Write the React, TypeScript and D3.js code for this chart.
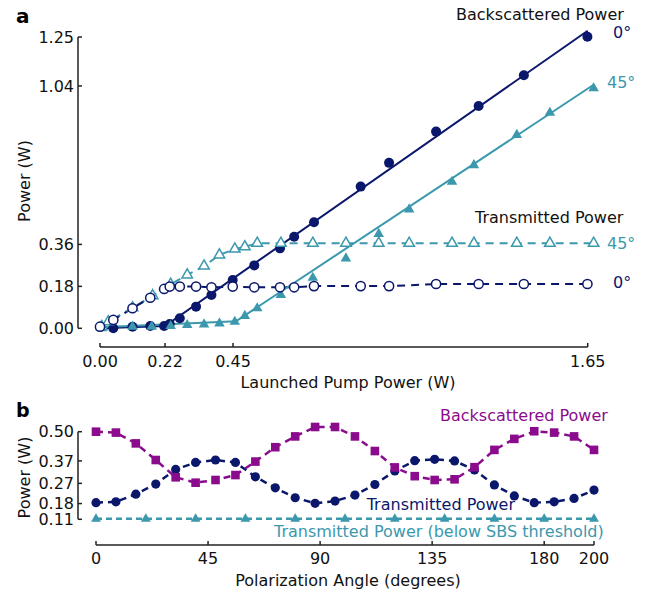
import React from "react";
import * as d3 from "d3";

// ---------- Panel a data ----------
const xTicksA = [0, 0.22, 0.45, 1.65];
const xTickLabelsA = ["0.00", "0.22", "0.45", "1.65"];
const yTicksA = [0, 0.18, 0.36, 1.04, 1.25];
const yTickLabelsA = ["0.00", "0.18", "0.36", "1.04", "1.25"];

const pump0Back = [0.045, 0.11, 0.17, 0.217, 0.236, 0.27, 0.325, 0.377, 0.449, 0.522, 0.609, 0.657, 0.724, 0.882, 0.978, 1.137, 1.281, 1.434, 1.649];
const back0 = [0.0, 0.007, 0.01, 0.01, 0.018, 0.043, 0.093, 0.143, 0.207, 0.27, 0.343, 0.393, 0.455, 0.608, 0.71, 0.844, 0.954, 1.086, 1.251];
const pump0Trans = [0, 0.045, 0.11, 0.17, 0.217, 0.236, 0.27, 0.325, 0.377, 0.449, 0.522, 0.609, 0.657, 0.724, 0.882, 0.978, 1.137, 1.281, 1.434, 1.649];
const trans0 = [0.007, 0.036, 0.086, 0.131, 0.169, 0.179, 0.179, 0.179, 0.176, 0.179, 0.176, 0.176, 0.176, 0.181, 0.181, 0.181, 0.19, 0.19, 0.19, 0.19];

const pump45 = [0.006, 0.11, 0.175, 0.239, 0.295, 0.352, 0.404, 0.456, 0.49, 0.532, 0.612, 0.72, 0.832, 0.943, 1.046, 1.191, 1.265, 1.41, 1.522, 1.67];
const back45 = [0.0, 0.007, 0.007, 0.01, 0.014, 0.017, 0.021, 0.028, 0.053, 0.086, 0.143, 0.217, 0.3, 0.405, 0.51, 0.629, 0.7, 0.83, 0.925, 1.03];
const pump45Trans = [0.006, 0.028, 0.11, 0.178, 0.239, 0.295, 0.352, 0.404, 0.456, 0.49, 0.532, 0.612, 0.72, 0.832, 0.943, 1.046, 1.191, 1.265, 1.41, 1.522, 1.67];
const trans45 = [0.007, 0.028, 0.088, 0.14, 0.189, 0.229, 0.267, 0.315, 0.34, 0.35, 0.365, 0.365, 0.365, 0.365, 0.365, 0.365, 0.365, 0.365, 0.365, 0.365, 0.365];

const fitBack0X = [0, 0.22, 1.65];
const fitBack0Y = [0, 0.01, 1.277];
const fitBack45X = [0, 0.46, 1.67];
const fitBack45Y = [0.004, 0.03, 1.045];

// ---------- Panel b data ----------
const xTicksB = [0, 45, 90, 135, 180, 200];
const yTicksB = [0.11, 0.18, 0.27, 0.37, 0.5];
const yTickLabelsB = ["0.11", "0.18", "0.27", "0.37", "0.50"];

const angles = [0, 8, 16, 24, 32, 40, 48, 56, 64, 72, 80, 88, 96, 104, 112, 120, 128, 136, 144, 152, 160, 168, 176, 184, 192, 200];
const backB = [0.5, 0.496, 0.448, 0.374, 0.297, 0.273, 0.285, 0.307, 0.367, 0.431, 0.479, 0.521, 0.521, 0.479, 0.414, 0.341, 0.302, 0.285, 0.288, 0.342, 0.419, 0.468, 0.502, 0.496, 0.479, 0.419];
const transB = [0.184, 0.188, 0.222, 0.267, 0.332, 0.363, 0.374, 0.363, 0.299, 0.25, 0.206, 0.181, 0.191, 0.218, 0.265, 0.325, 0.371, 0.377, 0.37, 0.33, 0.263, 0.214, 0.184, 0.188, 0.203, 0.24];
const belowAngles = [0, 20, 40, 60, 80, 100, 120, 140, 160, 180, 200];
const belowB = [0.112, 0.112, 0.112, 0.112, 0.112, 0.112, 0.112, 0.112, 0.112, 0.112, 0.112];

const NAVY = "#0b176b";
const TEAL = "#3b98ad";
const PURPLE = "#8a0c8c";
const AX = "#222";
const FONT = "DejaVu Sans, Verdana, sans-serif";
const FS = 16;

const zip = (xs: number[], ys: number[]) => xs.map((x, i) => [x, ys[i]] as [number, number]);

export default function App() {
  // panel a scales
  const xA = d3.scaleLinear().domain([0, 1.65]).range([100, 587.7]);
  const yA = d3.scaleLinear().domain([0, 1.25]).range([328.3, 37]);
  const xAxisYA = 347;
  const yAxisXA = 78;

  // panel b scales
  const xB = d3.scaleLinear().domain([0, 200]).range([96, 594]);
  const yB = d3.scaleLinear().domain([0.11, 0.5]).range([519.3, 431.7]);
  const xAxisYB = 545;
  const yAxisXB = 78;

  const lineA = d3.line<[number, number]>().x((d) => xA(d[0])).y((d) => yA(d[1]));
  const lineB = d3.line<[number, number]>().x((d) => xB(d[0])).y((d) => yB(d[1]));

  const tri = d3.symbol().type(d3.symbolTriangle).size(48)() as string;
  const triB = d3.symbol().type(d3.symbolTriangle).size(42)() as string;

  const textStyle = { fontFamily: FONT, fontSize: FS } as const;

  return (
    <svg width={649} height={595} style={{ position: "absolute", left: 0, top: 0, background: "#fff" }}>
      <rect x={0} y={0} width={649} height={595} fill="#fff" />
      {/* ===== Panel a ===== */}
      <text x={16} y={23} fontFamily={FONT} fontSize={20} fontWeight="bold" fill="#000">a</text>

      {/* y axis */}
      <line x1={yAxisXA} x2={yAxisXA} y1={yA(1.25)} y2={yA(0)} stroke={AX} strokeWidth={1.5} />
      {yTicksA.map((t, i) => (
        <g key={"ya" + i}>
          <line x1={yAxisXA} x2={yAxisXA + 4} y1={yA(t)} y2={yA(t)} stroke={AX} strokeWidth={1.5} />
          <text x={yAxisXA - 4} y={yA(t) + 5.7} textAnchor="end" {...textStyle} fill="#111">{yTickLabelsA[i]}</text>
        </g>
      ))}
      <text transform={`translate(30,181) rotate(-90)`} textAnchor="middle" {...textStyle} fill="#111">Power (W)</text>

      {/* x axis */}
      <line x1={xA(0)} x2={xA(1.65)} y1={xAxisYA} y2={xAxisYA} stroke={AX} strokeWidth={1.5} />
      {xTicksA.map((t, i) => (
        <g key={"xa" + i}>
          <line x1={xA(t)} x2={xA(t)} y1={xAxisYA} y2={xAxisYA - 4} stroke={AX} strokeWidth={1.5} />
          <text x={xA(t)} y={367} textAnchor="middle" {...textStyle} fill="#111">{xTickLabelsA[i]}</text>
        </g>
      ))}
      <text x={348} y={388} textAnchor="middle" {...textStyle} fill="#111">Launched Pump Power (W)</text>

      {/* dashed transmitted lines */}
      <path d={lineA(zip(pump45Trans, trans45)) as string} fill="none" stroke={TEAL} strokeWidth={2} strokeDasharray="8,6" />
      <path d={lineA(zip(pump0Trans, trans0)) as string} fill="none" stroke={NAVY} strokeWidth={2} strokeDasharray="8,6" />
      {/* solid fit lines */}
      <path d={lineA(zip(fitBack0X, fitBack0Y)) as string} fill="none" stroke={NAVY} strokeWidth={2} />
      <path d={lineA(zip(fitBack45X, fitBack45Y)) as string} fill="none" stroke={TEAL} strokeWidth={2} />

      {/* markers */}
      {zip(pump0Back, back0).map((d, i) => (
        <circle key={"b0" + i} cx={xA(d[0])} cy={yA(d[1])} r={5} fill={NAVY} />
      ))}
      {zip(pump45, back45).map((d, i) => (
        <path key={"b45" + i} d={tri} transform={`translate(${xA(d[0])},${yA(d[1])})`} fill={TEAL} />
      ))}
      {zip(pump45Trans, trans45).map((d, i) => (
        <path key={"t45" + i} d={tri} transform={`translate(${xA(d[0])},${yA(d[1])})`} fill="#fff" stroke={TEAL} strokeWidth={1.5} />
      ))}
      {zip(pump0Trans, trans0).map((d, i) => (
        <circle key={"t0" + i} cx={xA(d[0])} cy={yA(d[1])} r={4.6} fill="#fff" stroke={NAVY} strokeWidth={1.5} />
      ))}

      {/* labels */}
      <text x={456} y={20} {...textStyle} fill="#111">Backscattered Power</text>
      <text x={613} y={38.3} {...textStyle} fill={NAVY}>0°</text>
      <text x={607} y={87.5} {...textStyle} fill={TEAL}>45°</text>
      <text x={475} y={223.3} {...textStyle} fill="#111">Transmitted Power</text>
      <text x={607} y={249} {...textStyle} fill={TEAL}>45°</text>
      <text x={613} y={288} {...textStyle} fill={NAVY}>0°</text>

      {/* ===== Panel b ===== */}
      <text x={16} y={416.7} fontFamily={FONT} fontSize={19} fontWeight="bold" fill="#000">b</text>

      <line x1={yAxisXB} x2={yAxisXB} y1={yB(0.5)} y2={yB(0.11)} stroke={AX} strokeWidth={1.5} />
      {yTicksB.map((t, i) => (
        <g key={"yb" + i}>
          <line x1={yAxisXB} x2={yAxisXB + 4} y1={yB(t)} y2={yB(t)} stroke={AX} strokeWidth={1.5} />
          <text x={yAxisXB - 4} y={yB(t) + 5.7} textAnchor="end" {...textStyle} fill="#111">{yTickLabelsB[i]}</text>
        </g>
      ))}
      <text transform={`translate(29.5,477.5) rotate(-90)`} textAnchor="middle" {...textStyle} fill="#111">Power (W)</text>

      <line x1={xB(0)} x2={xB(200)} y1={xAxisYB} y2={xAxisYB} stroke={AX} strokeWidth={1.5} />
      {xTicksB.map((t, i) => (
        <g key={"xb" + i}>
          <line x1={xB(t)} x2={xB(t)} y1={xAxisYB} y2={xAxisYB - 4} stroke={AX} strokeWidth={1.5} />
          <text x={xB(t)} y={563.5} textAnchor="middle" {...textStyle} fill="#111">{String(t)}</text>
        </g>
      ))}
      <text x={348} y={585.5} textAnchor="middle" {...textStyle} fill="#111">Polarization Angle (degrees)</text>

      {/* lines */}
      <path d={lineB(zip(belowAngles, belowB)) as string} fill="none" stroke={TEAL} strokeWidth={2.5} strokeDasharray="6,4" />
      <path d={lineB(zip(angles, transB)) as string} fill="none" stroke={NAVY} strokeWidth={2.5} strokeDasharray="7,5" />
      {zip(angles, transB).map((d, i) => (
        <circle key={"tb" + i} cx={xB(d[0])} cy={yB(d[1])} r={4.6} fill={NAVY} />
      ))}
      <path d={lineB(zip(angles, backB)) as string} fill="none" stroke={PURPLE} strokeWidth={2.5} strokeDasharray="7,5" />
      {zip(angles, backB).map((d, i) => (
        <rect key={"bb" + i} x={xB(d[0]) - 4.3} y={yB(d[1]) - 4.3} width={8.6} height={8.6} fill={PURPLE} />
      ))}
      {zip(belowAngles, belowB).map((d, i) => (
        <path key={"lb" + i} d={triB} transform={`translate(${xB(d[0])},${yB(d[1])})`} fill={TEAL} />
      ))}

      <text x={440} y={421} {...textStyle} fill={PURPLE}>Backscattered Power</text>
      <text x={366.7} y={510} {...textStyle} fill={NAVY}>Transmitted Power</text>
      <text x={274} y={537.3} {...textStyle} fill={TEAL}>Transmitted Power (below SBS threshold)</text>
    </svg>
  );
}
